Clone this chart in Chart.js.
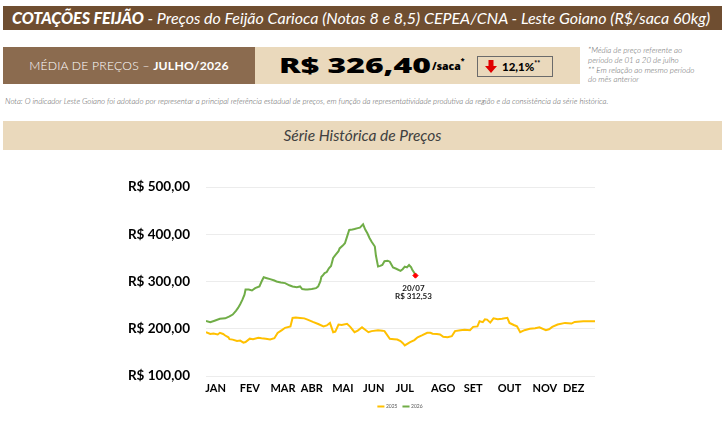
<!DOCTYPE html>
<html><head><meta charset="utf-8">
<script src="https://cdn.jsdelivr.net/npm/chart.js@4.4.1/dist/chart.umd.min.js"></script>
<style>
html,body{margin:0;padding:0}
body{width:728px;height:421px;background:#fff;font-family:Lato,'Noto Sans',sans-serif;position:relative;overflow:hidden}
.abs{position:absolute;white-space:nowrap}
.banner{left:3px;top:6px;width:719px;height:24px;background:#6f4e31;color:#fff;font-style:italic;font-size:16px;line-height:24px;padding-left:9px;box-sizing:border-box;font-weight:400}
.banner b{font-weight:900}
.lbox{left:3px;top:47px;width:252px;height:37px;background:#8b6b4f;color:#fff;font-size:12.2px;line-height:37px;text-align:center;letter-spacing:0.2px;font-weight:300}
.lbox b{font-weight:700}
.rbox{left:255px;top:47px;width:325px;height:37px;background:#ead9bc}
.price{left:279px;top:48px;color:#000;line-height:34px;transform-origin:0 50%;font-family:'Open Sans',sans-serif;font-size:21px;font-weight:800}
.saca{left:432px;top:48px;color:#000;line-height:36px;font-family:'Open Sans',sans-serif;font-size:10.5px;font-weight:800}
.saca sup{font-size:7px;vertical-align:top;line-height:26px}
.chg{left:477px;top:56px;width:76px;height:21px;border:1px solid #6b6b6b;box-sizing:border-box;background:#ead9bc}
.chg span{position:absolute;left:24px;top:2px;font-size:11.5px;font-weight:900;line-height:15px;color:#000}
.chg sup{font-size:7px;vertical-align:top;line-height:9px}
.chg svg{position:absolute;left:7px;top:3px}
.notes{left:588px;top:46px;font-size:8px;line-height:9.8px;font-style:italic;color:#666;font-weight:300}
.nota{left:5px;top:96px;font-size:7.85px;font-style:italic;color:#595959;font-weight:300}
.band{left:3px;top:121px;width:719px;height:29px;background:#ead9bc;color:#404040;font-style:italic;font-size:15.5px;line-height:29px;text-align:center}
#wrap{position:absolute;left:0;top:155px;width:728px;height:266px}
</style></head>
<body>
<div class="abs banner"><b>COTAÇÕES FEIJÃO</b> - Preços do Feijão Carioca (Notas 8 e 8,5) CEPEA/CNA - Leste Goiano (R$/saca 60kg)</div>
<div class="abs lbox">MÉDIA DE PREÇOS – <b>JULHO/2026</b></div>
<div class="abs rbox"></div>
<div class="abs price" id="price">R$ 326,40</div>
<div class="abs saca">/saca<sup>*</sup></div>
<div class="abs chg"><svg width="12" height="13" viewBox="0 0 12 13"><path d="M3.5 0 H8.5 V6 H12 L6 13 L0 6 H3.5 Z" fill="#e00000"/></svg><span>12,1%<sup>**</sup></span></div>
<div class="abs notes">*Média de preço referente ao<br>período de 01 a 20 de julho<br>** Em relação ao mesmo período<br>do mês anterior</div>
<div class="abs nota">Nota: O indicador Leste Goiano foi adotado por representar a principal referência estadual de preços, em função da representatividade produtiva da região e da consistência da série histórica.</div>
<div class="abs band">Série Histórica de Preços</div>
<div id="wrap"><canvas id="c" width="728" height="266"></canvas></div>
<script>
// Month labels and their positions (day of year on the axis)
const monthLabels = ['JAN','FEV','MAR','ABR','MAI','JUN','JUL','AGO','SET','OUT','NOV','DEZ'];
const monthTickDays = [9,41,72,99,128,157,186,222,250,284,317,344];
const yTicks = [100,200,300,400,500];

// 2025 series (day of year, R$/saca)
const days2025 = [0,4,7,11,13,16,18,21,22,25,29,32,35,37,41,44,49,52,56,60,64,67,71,74,79,81,84,88,92,95,100,105,110,113,116,119,121,124,127,132,135,139,142,146,149,152,155,161,165,167,172,176,179,182,184,186,191,195,198,202,207,210,212,216,219,222,226,230,233,238,242,247,250,254,256,259,261,263,266,269,273,277,282,284,288,291,294,298,303,308,312,318,321,324,329,336,342,345,353,358,364];
const price2025 = [193,189,190,188,191.5,189,185.7,182,178,177,174,175,170.5,172,179,178,181,180,179,177.3,180,191,197,202,205,223,224,223,222,219.4,214.5,210,205,207,212.4,192.7,194,209,208,210.3,204,192.7,196,203,198,192.7,195,197,196,195,178.8,178,177.3,174,170,164.7,171.6,176,182,186,191.5,191.5,189.5,189,188,183,182,184.3,195,197,198,197,204,205,216,214,220,219.4,213,222,220,221,223,212.4,208,205,192.7,197,200,201,203,197,199,204,209,212.4,211,214.5,216,216,216];

// 2026 series (day of year, R$/saca)
const days2026 = [0,4,8,13,18,22,25,28,30,32,34,36,37,40,43,46,50,52,54,57,60,64,66,70,74,78,81,85,88,90,93,95,99,103,105,107,108,109,111,113,115,117,119,121,124,125,128,130,132,134,137,139,142,144,147,149,151,153,155,158,159,161,163,165,167,170,172,175,178,182,184,186,188,190,192,193,195,196];
const price2026 = [216.4,214,217,221,222,226,230,238,244,252,261,272,283,283,281,286,289.5,300,309,307,305,302,300,298,296.6,292,289.5,288,289.5,284,283,283,284,286,289.5,300,310,312,317.7,320,328,333,350,356,364,370,376,381,395,409,410,411,413,414,421,410,402,392,384,374,355,331.6,333,335,343,344,342,329.5,327,322.5,326,331.6,330,335,330,324.7,318,312.53];
const lastDateLabel = '20/07';

// stretch the headline price to the width it has in the source layout
(function(){
  const p = document.getElementById('price');
  const w = p.getBoundingClientRect().width;
  p.style.transform = 'scaleX(' + (152 / w) + ')';
})();

const fmt = v => 'R$ ' + v.toFixed(2).replace('.', ',');
const toXY = (xs, ys) => xs.map((x, i) => ({x, y: ys[i]}));

const annot = {
  id: 'annot',
  afterDatasetsDraw(chart) {
    const meta = chart.getDatasetMeta(1);
    const el = meta.data[meta.data.length - 1];
    const ctx = chart.ctx;
    ctx.save();
    ctx.font = 'bold 8px Lato, sans-serif';
    ctx.fillStyle = '#1a1a1a';
    ctx.textAlign = 'center';
    ctx.textBaseline = 'middle';
    ctx.fillText(lastDateLabel, el.x - 2, el.y + 13);
    ctx.fillText(fmt(price2026[price2026.length - 1]), el.x - 2, el.y + 21);
    ctx.restore();
  }
};

new Chart(document.getElementById('c'), {
  type: 'line',
  data: {
    datasets: [
      {label: '2025', data: toXY(days2025, price2025), borderColor: '#FFC000', backgroundColor: '#FFC000', borderWidth: 2, pointRadius: 0, tension: 0},
      {label: '2026', data: toXY(days2026, price2026), borderColor: '#70AD47', backgroundColor: '#70AD47', borderWidth: 2, tension: 0,
       pointRadius: c => c.dataIndex === price2026.length - 1 ? 2.6 : 0,
       pointStyle: 'rectRot', pointBackgroundColor: '#FF0000', pointBorderColor: '#FF0000', pointBorderWidth: 1}
    ]
  },
  options: {
    responsive: false,
    animation: false,
    layout: {padding: {left: 0, right: 133, top: 32, bottom: 2}},
    plugins: {
      legend: {
        position: 'bottom', fullSize: false,
        labels: {usePointStyle: true, pointStyle: 'line', boxWidth: 12, boxHeight: 5, padding: 6, font: {size: 5, family: 'Lato'}, color: '#595959',
          generateLabels: chart => chart.data.datasets.map((ds, i) => ({
            text: ds.label, fillStyle: ds.borderColor, strokeStyle: ds.borderColor, lineWidth: 2,
            pointStyle: 'line', hidden: false, datasetIndex: i, fontColor: '#595959'
          }))
        }
      },
      tooltip: {enabled: false}
    },
    scales: {
      x: {
        type: 'linear', min: 0, max: 364,
        grid: {display: false, drawTicks: false}, border: {display: false},
        afterBuildTicks: s => { s.ticks = monthTickDays.map(v => ({value: v})); },
        afterFit: s => { s.height = 22; },
        ticks: {autoSkip: false, maxRotation: 0, padding: 6, color: '#000', font: {size: 11, weight: 'bold', family: 'Lato'},
          callback: (v, i) => monthLabels[i]}
      },
      y: {
        min: 100, max: 500,
        afterBuildTicks: s => { s.ticks = yTicks.map(v => ({value: v})); },
        afterFit: s => { s.width = 206; },
        grid: {color: '#ececec', drawTicks: false}, border: {display: false},
        ticks: {padding: 16, color: '#000', font: {size: 13.5, weight: 'bold', family: 'Lato'}, callback: v => fmt(v)}
      }
    }
  },
  plugins: [annot]
});
</script>
</body></html>
